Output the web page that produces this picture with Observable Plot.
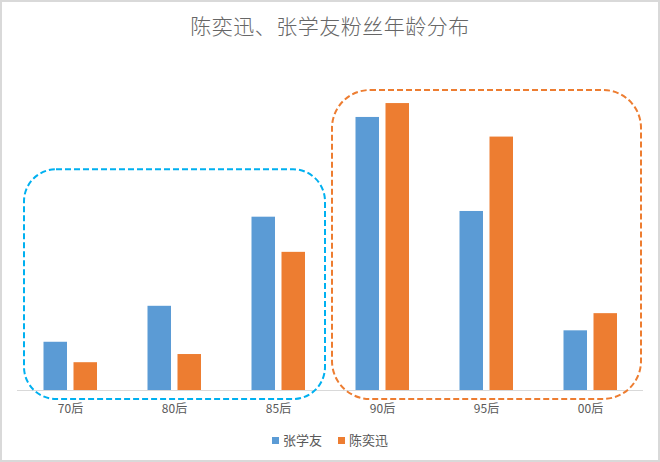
<!DOCTYPE html>
<html><head><meta charset="utf-8">
<script src="https://cdn.jsdelivr.net/npm/d3@7"></script>
<script src="https://cdn.jsdelivr.net/npm/@observablehq/plot@0.6"></script>
<style>
html,body{margin:0;padding:0;background:#fff;}
body{width:660px;height:462px;position:relative;overflow:hidden;font-family:"Noto Sans CJK SC","Noto Sans",sans-serif;}
#frame{position:absolute;left:0;top:0;width:660px;height:462px;box-sizing:border-box;border:2px solid #d9d9d9;pointer-events:none;}
#title{height:50px;line-height:51px;text-align:center;font-size:21px;font-weight:300;color:#666666;letter-spacing:0.5px;}
#chart svg{display:block;}
#legend{height:38px;display:flex;justify-content:center;align-items:center;gap:16px;font-size:13px;color:#595959;}
.sw{display:inline-block;width:7px;height:7px;margin-right:4px;vertical-align:middle;}
</style></head>
<body>
<div id="title">陈奕迅、张学友粉丝年龄分布</div>
<div id="chart"></div>
<div id="legend"></div>
<div id="frame"></div>
<script>
// ---- data ----
const categories = ["70后", "80后", "85后", "90后", "95后", "00后"];
const seriesNames = ["张学友", "陈奕迅"];
const zhangValues = [5.9, 10.3, 21.2, 33.4, 21.9, 7.3];
const chenValues = [3.4, 4.4, 16.9, 35.1, 31.0, 9.4];
// highlighted groups (annotation boxes)
const groupFirst = ["70后", "90后"];
const groupLast = ["85后", "00后"];
const groupTop = [27.0, 36.7];

// ---- styles ----
const colors = ["#5B9BD5", "#ED7D31"];
const boxColors = ["#00B0F0", "#ED7D31"];

const rows = [];
categories.forEach((c, i) => {
  rows.push({category: c, series: seriesNames[0], value: zhangValues[i]});
  rows.push({category: c, series: seriesNames[1], value: chenValues[i]});
});

const plot = Plot.plot({
  width: 660,
  height: 370,
  marginTop: 13,
  marginBottom: 30,
  marginLeft: 17,
  marginRight: 17,
  style: {fontSize: "12px", color: "#595959", fontFamily: "'Noto Sans CJK SC','Noto Sans',sans-serif", background: "transparent"},
  x: {type: "band", domain: categories, padding: 0, tickSize: 0, tickPadding: 14, label: null},
  y: {domain: [0, 40], axis: null},
  marks: [
    Plot.barY(rows.filter(d => d.series === seriesNames[0]), {x: "category", y: "value", fill: colors[0], insetLeft: 25.5, insetRight: 55}),
    Plot.barY(rows.filter(d => d.series === seriesNames[1]), {x: "category", y: "value", fill: colors[1], insetLeft: 55.5, insetRight: 25}),
    Plot.ruleY([0], {stroke: "#d9d9d9", strokeWidth: 1})
  ]
});
document.getElementById("chart").appendChild(plot);

// annotation boxes, positioned through the plot's own scales
const sxd = plot.scale("x"), syd = plot.scale("y");
const sx = d3.scaleBand().domain(sxd.domain).range(sxd.range).paddingInner(sxd.paddingInner || 0).paddingOuter(sxd.paddingOuter || 0).align(sxd.align ?? 0.5);
const sy = d3.scaleLinear().domain(syd.domain).range(syd.range);
const insets = [{l: 7, r: 5, b: 9, rx: 32}, {l: 2, r: 2, b: 9, rx: 38}];
const g = d3.select(plot).append("g").attr("fill", "none");
groupFirst.forEach((f, i) => {
  const x1 = sx(f) + insets[i].l;
  const x2 = sx(groupLast[i]) + sx.bandwidth() - insets[i].r;
  const y1 = sy(groupTop[i]);
  const y2 = sy(0) + insets[i].b;
  g.append("rect")
    .attr("x", x1).attr("y", y1)
    .attr("width", x2 - x1).attr("height", y2 - y1)
    .attr("rx", insets[i].rx).attr("ry", insets[i].rx)
    .attr("stroke", boxColors[i]).attr("stroke-width", 2)
    .attr("stroke-dasharray", "6,3");
});

// legend
const legend = document.getElementById("legend");
seriesNames.forEach((s, i) => {
  const item = document.createElement("span");
  item.innerHTML = `<span class="sw" style="background:${colors[i]}"></span>${s}`;
  legend.appendChild(item);
});
</script>
</body></html>
